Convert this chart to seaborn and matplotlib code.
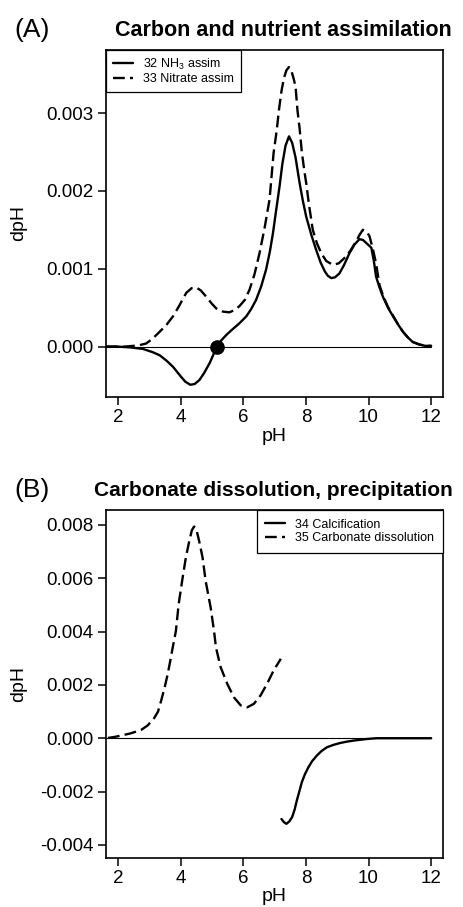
import seaborn as sns
import matplotlib.pyplot as plt
from matplotlib.ticker import FormatStrFormatter

# (A) carbon and nutrient assimilation
ph_nh3 = [1.62, 2.0, 2.4, 2.8, 3.1, 3.33, 3.55, 3.76, 3.9, 4.02, 4.15, 4.31,
          4.45, 4.6, 4.75, 4.93, 5.05, 5.16, 5.3, 5.46, 5.65, 5.88, 6.1, 6.25,
          6.41, 6.57, 6.73, 6.85, 6.95, 7.05, 7.16, 7.25, 7.35, 7.46, 7.56,
          7.67, 7.8, 7.9, 8.01, 8.17, 8.33, 8.47, 8.6, 8.7, 8.81, 8.93, 9.07,
          9.22, 9.39, 9.55, 9.71, 9.82, 9.93, 10.09, 10.17, 10.24, 10.35,
          10.46, 10.62, 10.78, 10.95, 11.1, 11.25, 11.41, 11.6, 11.8, 12.0]
dph_nh3 = [0.0, 0.0, -0.00001, -0.00003, -0.00007, -0.00011, -0.00018,
           -0.00026, -0.00033, -0.00039, -0.00045, -0.00049, -0.00048,
           -0.00043, -0.00034, -0.00021, -0.0001, 0.0, 0.00008, 0.00015,
           0.00022, 0.0003, 0.00039, 0.00048, 0.0006, 0.00077, 0.00099,
           0.00122, 0.00146, 0.00175, 0.00206, 0.00235, 0.00258, 0.0027,
           0.00262, 0.00243, 0.0021, 0.00188, 0.00167, 0.00144, 0.00124,
           0.00108, 0.00097, 0.00091, 0.00088, 0.00089, 0.00094, 0.00105,
           0.0012, 0.00131, 0.00138, 0.00137, 0.00133, 0.00127, 0.0011,
           0.0009, 0.00076, 0.00064, 0.0005, 0.00039, 0.00028, 0.00019,
           0.00012, 0.00006, 0.00003, 0.00001, 0.00001]

ph_no3 = [1.62, 2.2, 2.5, 2.7, 2.9, 3.1, 3.33, 3.55, 3.76, 3.95, 4.18, 4.35,
          4.5, 4.65, 4.82, 5.0, 5.14, 5.35, 5.56, 5.72, 5.88, 6.05, 6.2, 6.36,
          6.52, 6.68, 6.84, 6.97, 7.07, 7.14, 7.22, 7.3, 7.38, 7.46, 7.54,
          7.61, 7.67, 7.73, 7.8, 7.87, 7.95, 8.01, 8.1, 8.22, 8.35, 8.49,
          8.65, 8.86, 9.05, 9.29, 9.45, 9.6, 9.72, 9.82, 9.93, 10.03, 10.14,
          10.24, 10.35, 10.46, 10.62, 10.78, 10.95, 11.1, 11.25, 11.41, 11.6,
          11.8, 12.0]
dph_no3 = [0.0, 0.0, 0.00001, 0.00002, 0.00004, 0.0001, 0.00019, 0.00028,
           0.00039, 0.00052, 0.00069, 0.00075, 0.00076, 0.00072, 0.00064,
           0.00055, 0.00049, 0.00045, 0.00044, 0.00047, 0.00052, 0.0006,
           0.00073, 0.00093, 0.0012, 0.00152, 0.00189, 0.00249, 0.00278,
           0.00304, 0.00328, 0.00345, 0.00355, 0.00359, 0.00354, 0.00344,
           0.00334, 0.00304, 0.0028, 0.0025, 0.00226, 0.0021, 0.00182, 0.0015,
           0.00133, 0.0012, 0.0011, 0.00105, 0.00107, 0.00116, 0.00125,
           0.00135, 0.00144, 0.0015, 0.00148, 0.00142, 0.00125, 0.00107,
           0.00079, 0.00066, 0.00051, 0.0004, 0.00028, 0.00019, 0.00012,
           0.00006, 0.00003, 0.00001, 0.00001]

cross_ph = 5.16
cross_dph = 0.0

# (B) carbonate dissolution, precipitation
ph_calc = [7.22, 7.3, 7.38, 7.47, 7.56, 7.64, 7.71, 7.79, 7.87, 7.97, 8.08,
           8.2, 8.35, 8.5, 8.67, 8.88, 9.09, 9.3, 9.51, 9.72, 9.94, 10.25,
           11.0, 12.0]
dph_calc = [-0.00303, -0.00315, -0.00321, -0.00312, -0.00296, -0.00268,
            -0.00234, -0.002, -0.00165, -0.00135, -0.00109, -0.00086,
            -0.00065, -0.00048, -0.00034, -0.00025, -0.00018, -0.00013,
            -0.00009, -0.00006, -0.00003, 0.0, 0.0, 0.0]

ph_diss = [1.68, 1.9, 2.1, 2.4, 2.74, 2.95, 3.16, 3.28, 3.38, 3.49, 3.59,
           3.67, 3.75, 3.85, 3.94, 4.06, 4.17, 4.28, 4.36, 4.43, 4.5, 4.59,
           4.7, 4.8, 4.96, 5.07, 5.13, 5.28, 5.49, 5.7, 5.92, 6.13, 6.34,
           6.55, 6.76, 6.97, 7.2]
dph_diss = [0.00001, 0.00005, 0.0001, 0.00018, 0.00031, 0.00048, 0.00076,
            0.001, 0.00141, 0.0019, 0.00241, 0.0029, 0.00341, 0.00402,
            0.00504, 0.00598, 0.00679, 0.00741, 0.0078, 0.00794, 0.00785,
            0.00741, 0.00679, 0.0059, 0.0049, 0.004, 0.0034, 0.00266,
            0.00204, 0.00154, 0.00123, 0.00116, 0.00129, 0.0016, 0.00204,
            0.00254, 0.00298]

x_ticks = [2, 4, 6, 8, 10, 12]
y_ticks_a = [0.000, 0.001, 0.002, 0.003]
y_ticks_b = [-0.004, -0.002, 0.000, 0.002, 0.004, 0.006, 0.008]

sns.set_style('ticks')
plt.rcParams['font.family'] = ['Liberation Sans', 'DejaVu Sans']
plt.rcParams['mathtext.fontset'] = 'custom'
plt.rcParams['mathtext.rm'] = 'Liberation Sans'
plt.rcParams['mathtext.default'] = 'regular'
plt.rcParams['text.color'] = 'black'
plt.rcParams['axes.labelcolor'] = 'black'

DASH = (0, (5, 2.2))
XLIM = (1.62, 12.38)

fig = plt.figure(figsize=(4.63, 9.07), dpi=100)
ax_a = fig.add_axes([0.229, 0.5623, 0.728, 0.3826])
ax_b = fig.add_axes([0.229, 0.0544, 0.728, 0.3833])


def style_axes(ax, yticks, ylim):
    ax.set_xlim(*XLIM)
    ax.set_ylim(*ylim)
    ax.set_xticks(x_ticks)
    ax.set_yticks(yticks)
    ax.yaxis.set_major_formatter(FormatStrFormatter('%.3f'))
    ax.tick_params(axis='both', labelsize=13.5, length=6, width=1.1,
                   color='black', labelcolor='black', pad=3)
    for sp in ax.spines.values():
        sp.set_visible(True)
        sp.set_linewidth(1.2)
        sp.set_color('black')
    ax.set_xlabel('pH', fontsize=14)
    ax.set_ylabel('dpH', fontsize=14)
    ax.xaxis.set_label_coords(0.5, -0.088)
    ax.yaxis.set_label_coords(-0.235, 0.5)
    # zero reference line up to the last pH value
    ax.axhline(0, xmin=0, xmax=(max(x_ticks) - XLIM[0]) / (XLIM[1] - XLIM[0]),
               color='black', lw=0.8, zorder=1)


# panel A
sns.lineplot(x=ph_nh3, y=dph_nh3, ax=ax_a, color='black', lw=1.7,
             label='32 NH$_3$ assim')
sns.lineplot(x=ph_no3, y=dph_no3, ax=ax_a, color='black', lw=1.7,
             linestyle=DASH, label='33 Nitrate assim')
ax_a.plot([cross_ph], [cross_dph], 'o', color='black', ms=9.5, zorder=5)
style_axes(ax_a, y_ticks_a, (-0.000647, 0.00381))

# panel B
sns.lineplot(x=ph_calc, y=dph_calc, ax=ax_b, color='black', lw=1.7,
             label='34 Calcification')
sns.lineplot(x=ph_diss, y=dph_diss, ax=ax_b, color='black', lw=1.7,
             linestyle=DASH, label='35 Carbonate dissolution')
style_axes(ax_b, y_ticks_b, (-0.00448, 0.00856))

for ax, loc, bpad in [(ax_a, 'upper left', 0.55), (ax_b, 'upper right', 0.7)]:
    leg = ax.legend(loc=loc, fontsize=9, frameon=True, fancybox=False,
                    framealpha=1, edgecolor='black', borderaxespad=0,
                    handlelength=1.6, handletextpad=0.8, borderpad=bpad,
                    labelspacing=0.1)
    leg.get_frame().set_linewidth(0.9)
    for t in leg.get_texts():
        t.set_color('black')

# panel letters and titles
fig.text(14 / 463, 1 - 36.5 / 907, '(A)', fontsize=19, va='baseline')
fig.text(283 / 463, 1 - 36.5 / 907, 'Carbon and nutrient assimilation',
         fontsize=15.5, fontweight='bold', ha='center', va='baseline')
fig.text(14 / 463, 1 - 496.5 / 907, '(B)', fontsize=19, va='baseline')
fig.text(273 / 463, 1 - 496.5 / 907, 'Carbonate dissolution, precipitation',
         fontsize=15, fontweight='bold', ha='center', va='baseline')

fig.savefig('out.png', dpi=100)
